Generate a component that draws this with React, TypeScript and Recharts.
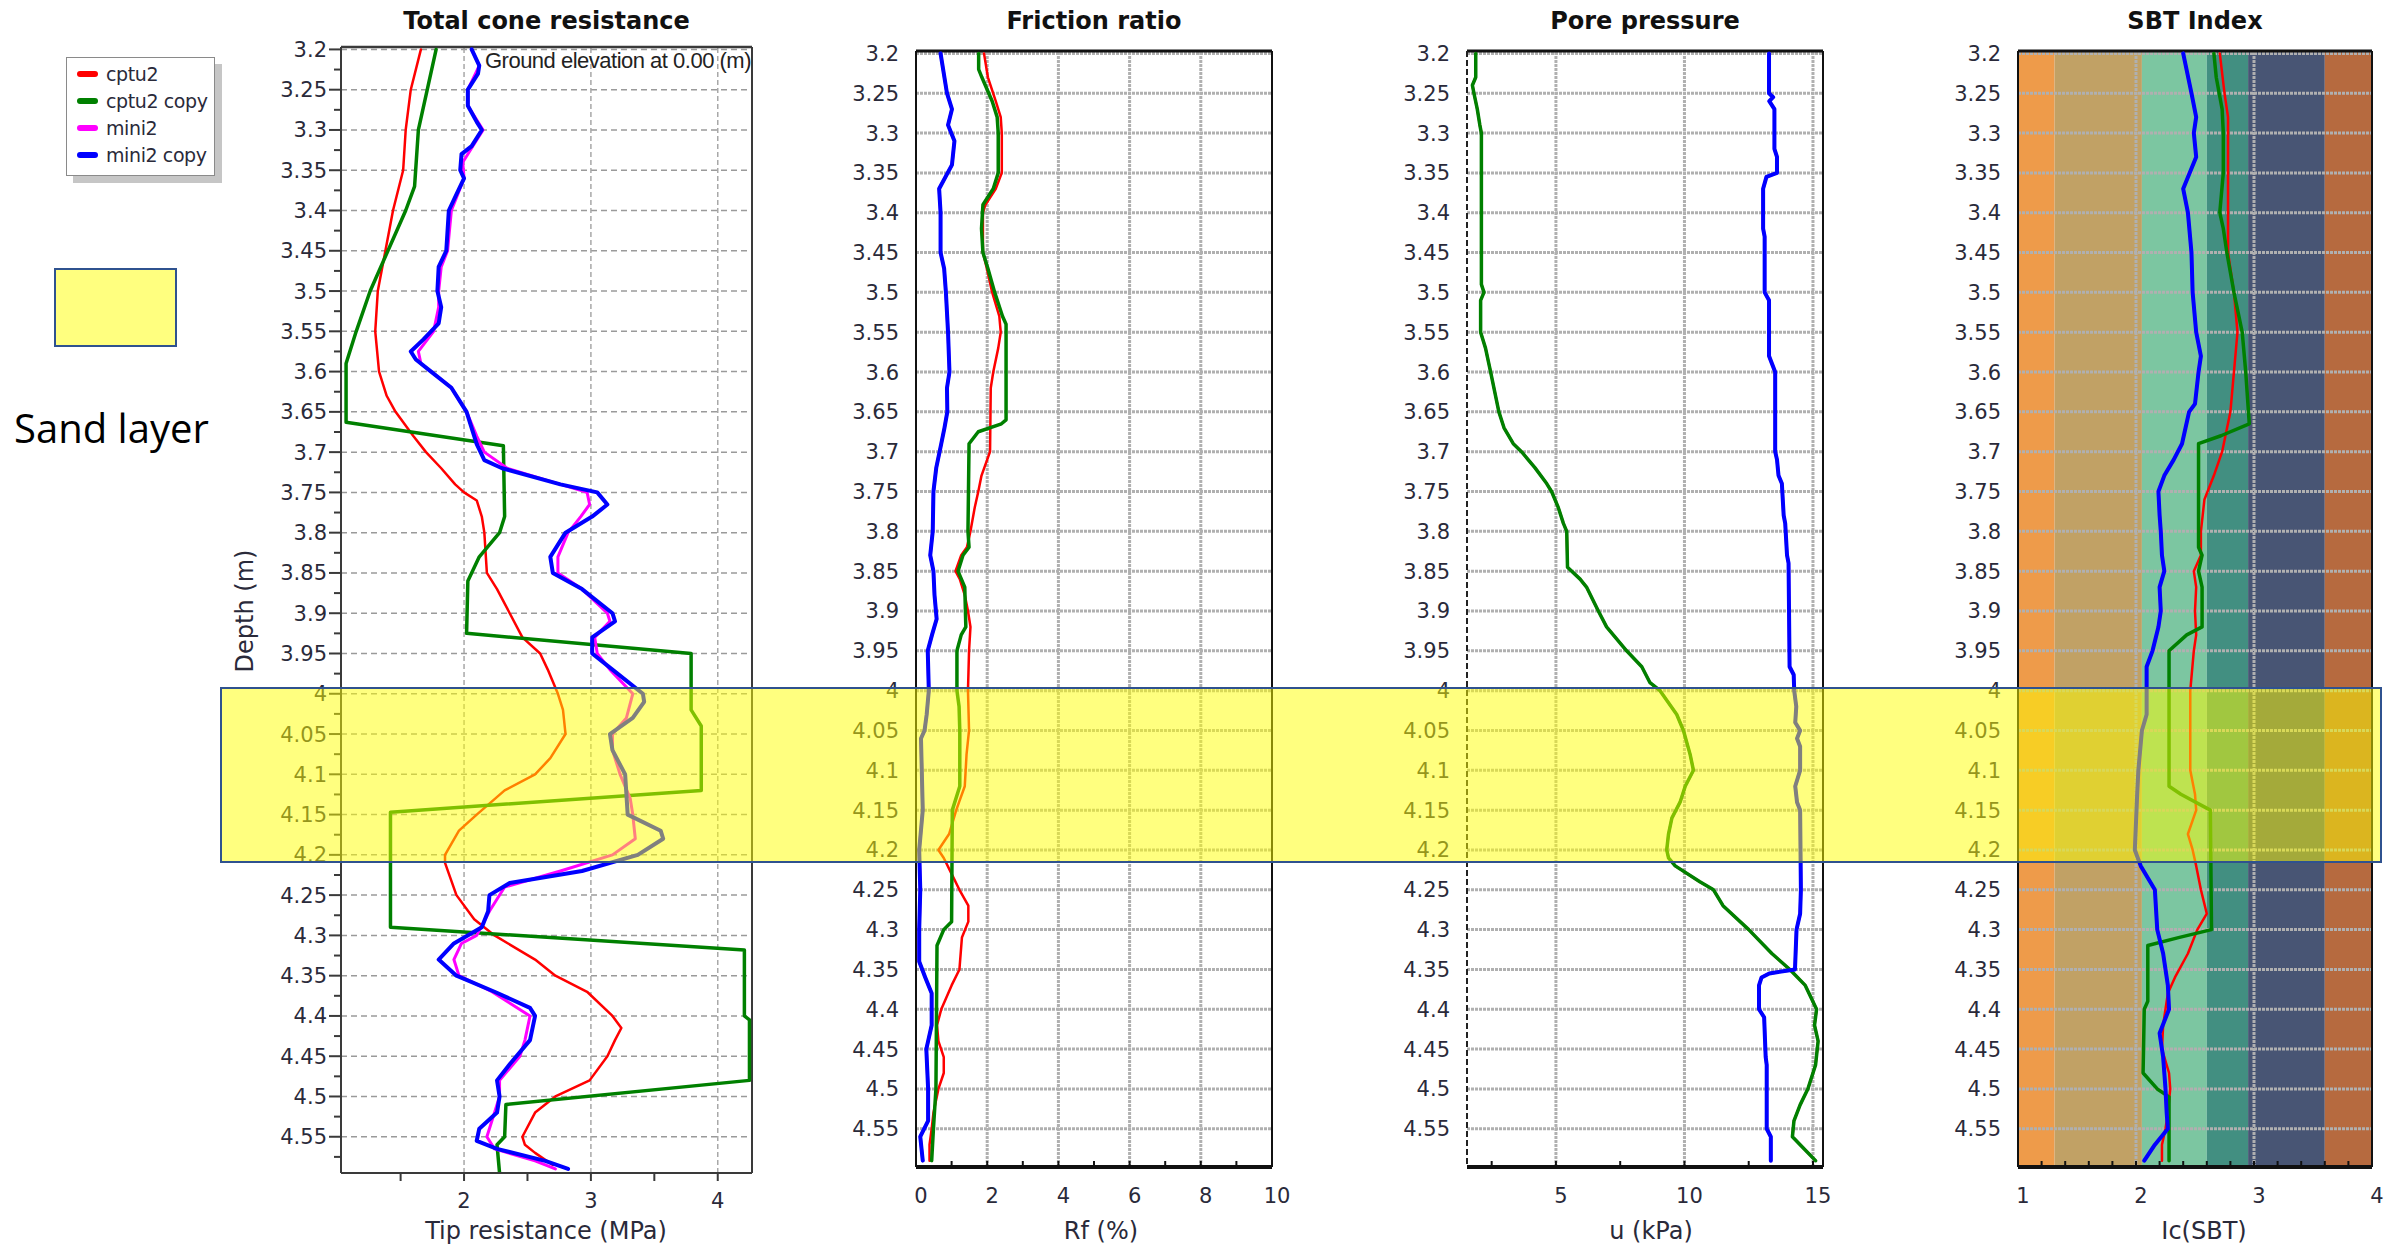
import React from 'react';
import { LineChart, Line, XAxis, YAxis, ReferenceLine, ReferenceArea, Legend } from 'recharts';

const W = 2402;
const H = 1246;
const FONT = '"DejaVu Sans", Verdana, sans-serif';

// ---------- series meta ----------
const seriesNames = ['cptu2', 'cptu2 copy', 'mini2', 'mini2 copy'];
const seriesColors = ['#ff0000', '#008000', '#ff00ff', '#0000ff'];
const seriesWidths = [2.5, 3.5, 3, 4];

// ---------- axis ticks ----------
const depthTicks = [3.2, 3.25, 3.3, 3.35, 3.4, 3.45, 3.5, 3.55, 3.6, 3.65, 3.7, 3.75, 3.8, 3.85, 3.9, 3.95, 4, 4.05, 4.1, 4.15, 4.2, 4.25, 4.3, 4.35, 4.4, 4.45, 4.5, 4.55];
const coneTicks = [1.5, 2, 2.5, 3, 3.5, 4];
const coneLabels = [2, 3, 4];
const coneGrid = [2, 3, 4];
const fricTicks = [0, 1, 2, 3, 4, 5, 6, 7, 8, 9, 10];
const fricLabels = [0, 2, 4, 6, 8, 10];
const fricGrid = [2, 4, 6, 8];
const poreTicks = [2.5, 5, 7.5, 10, 12.5, 15];
const poreLabels = [5, 10, 15];
const poreGrid = [5, 10, 15];
const sbtTicks = [1, 1.2, 1.4, 1.6, 1.8, 2, 2.2, 2.4, 2.6, 2.8, 3, 3.2, 3.4, 3.6, 3.8, 4];
const sbtLabels = [1, 2, 3, 4];
const sbtGrid = [2, 3];

// ---------- SBT zones ----------
const sbtBounds = [1, 1.31, 2.05, 2.6, 2.95, 3.6, 4];
const sbtColors = ['#EE9B4A', '#C1A165', '#7CC6A1', '#428F81', '#485574', '#B66A3F'];

// ---------- Total cone resistance (MPa) : [depth, value] ----------
const coneRed = [[3.2,1.66],[3.25,1.58],[3.3,1.54],[3.35,1.52],[3.4,1.44],[3.45,1.38],[3.5,1.32],[3.55,1.30],[3.6,1.33],[3.63,1.39],[3.65,1.46],[3.68,1.60],[3.7,1.70],[3.72,1.82],[3.74,1.93],[3.75,2.0],[3.76,2.10],[3.78,2.14],[3.8,2.16],[3.85,2.18],[3.87,2.26],[3.9,2.36],[3.93,2.46],[3.95,2.60],[3.97,2.66],[4.0,2.74],[4.02,2.78],[4.05,2.80],[4.08,2.68],[4.1,2.56],[4.12,2.32],[4.15,2.10],[4.17,1.96],[4.2,1.85],[4.21,1.85],[4.25,1.94],[4.28,2.08],[4.3,2.24],[4.33,2.56],[4.35,2.72],[4.37,2.97],[4.4,3.17],[4.415,3.24],[4.43,3.19],[4.45,3.13],[4.48,2.99],[4.5,2.72],[4.52,2.56],[4.55,2.46],[4.56,2.48],[4.57,2.56],[4.585,2.70]];
const coneGreen = [[3.2,1.78],[3.25,1.71],[3.3,1.64],[3.37,1.61],[3.4,1.54],[3.45,1.40],[3.5,1.26],[3.55,1.15],[3.59,1.07],[3.663,1.07],[3.692,2.31],[3.78,2.32],[3.8,2.28],[3.83,2.12],[3.86,2.03],[3.925,2.02],[3.95,3.79],[4.02,3.79],[4.04,3.87],[4.12,3.87],[4.147,1.42],[4.29,1.42],[4.318,4.21],[4.40,4.21],[4.405,4.25],[4.48,4.25],[4.51,2.33],[4.55,2.32],[4.56,2.26],[4.595,2.28]];
const coneMagenta = [[3.2,2.06],[3.22,2.12],[3.25,2.03],[3.27,2.03],[3.3,2.15],[3.32,2.07],[3.34,1.99],[3.36,2.0],[3.38,1.95],[3.4,1.90],[3.45,1.87],[3.47,1.82],[3.5,1.80],[3.52,1.80],[3.55,1.76],[3.575,1.64],[3.59,1.66],[3.6,1.74],[3.62,1.90],[3.65,2.02],[3.68,2.10],[3.7,2.16],[3.72,2.34],[3.74,2.76],[3.75,2.97],[3.765,2.99],[3.78,2.92],[3.8,2.82],[3.83,2.74],[3.85,2.74],[3.87,2.93],[3.9,3.13],[3.91,3.15],[3.93,3.03],[3.95,3.05],[3.97,3.15],[4.0,3.33],[4.03,3.28],[4.05,3.17],[4.07,3.17],[4.1,3.23],[4.13,3.31],[4.15,3.33],[4.18,3.35],[4.2,3.17],[4.22,2.76],[4.24,2.32],[4.27,2.2],[4.3,2.10],[4.31,1.98],[4.33,1.92],[4.35,1.96],[4.37,2.22],[4.4,2.52],[4.43,2.48],[4.45,2.44],[4.48,2.28],[4.5,2.28],[4.52,2.24],[4.55,2.18],[4.565,2.24],[4.58,2.56],[4.59,2.72]];
const coneBlue = [[3.2,2.06],[3.22,2.12],[3.23,2.11],[3.25,2.03],[3.27,2.03],[3.29,2.10],[3.3,2.14],[3.32,2.06],[3.33,1.98],[3.35,1.97],[3.36,2.0],[3.38,1.94],[3.4,1.88],[3.45,1.86],[3.47,1.80],[3.5,1.79],[3.52,1.82],[3.54,1.80],[3.56,1.68],[3.575,1.58],[3.585,1.62],[3.6,1.74],[3.62,1.90],[3.65,2.02],[3.68,2.08],[3.69,2.10],[3.71,2.16],[3.72,2.30],[3.74,2.76],[3.75,3.05],[3.765,3.13],[3.78,3.01],[3.8,2.80],[3.83,2.68],[3.85,2.70],[3.87,2.93],[3.9,3.17],[3.91,3.19],[3.93,3.01],[3.95,3.01],[3.97,3.17],[4.0,3.41],[4.01,3.42],[4.03,3.33],[4.05,3.15],[4.07,3.17],[4.1,3.27],[4.15,3.29],[4.17,3.55],[4.18,3.57],[4.2,3.37],[4.22,2.93],[4.235,2.36],[4.25,2.20],[4.27,2.19],[4.29,2.14],[4.31,1.92],[4.33,1.80],[4.35,1.94],[4.37,2.24],[4.39,2.52],[4.4,2.56],[4.43,2.52],[4.46,2.36],[4.48,2.26],[4.5,2.28],[4.52,2.26],[4.54,2.12],[4.555,2.10],[4.565,2.26],[4.58,2.64],[4.59,2.82]];

// ---------- Friction ratio (%) ----------
const fricRed = [[3.2,1.91],[3.23,2.02],[3.26,2.24],[3.28,2.38],[3.3,2.41],[3.35,2.41],[3.37,2.24],[3.39,1.95],[3.4,1.88],[3.45,1.88],[3.47,1.99],[3.5,2.14],[3.53,2.34],[3.55,2.38],[3.57,2.31],[3.6,2.17],[3.62,2.10],[3.7,2.08],[3.73,1.84],[3.75,1.75],[3.77,1.65],[3.8,1.53],[3.82,1.43],[3.83,1.27],[3.85,1.11],[3.86,1.23],[3.88,1.37],[3.9,1.46],[3.92,1.53],[3.95,1.49],[4.0,1.46],[4.05,1.49],[4.08,1.42],[4.12,1.37],[4.14,1.21],[4.15,1.13],[4.18,0.93],[4.2,0.63],[4.21,0.78],[4.23,1.0],[4.25,1.22],[4.27,1.47],[4.29,1.47],[4.31,1.29],[4.35,1.22],[4.37,1.0],[4.4,0.71],[4.42,0.59],[4.44,0.63],[4.46,0.78],[4.48,0.78],[4.5,0.63],[4.53,0.49],[4.55,0.44],[4.57,0.38],[4.59,0.38]];
const fricGreen = [[3.2,1.76],[3.22,1.76],[3.23,1.85],[3.26,2.14],[3.28,2.28],[3.3,2.31],[3.35,2.31],[3.37,2.17],[3.39,1.88],[3.42,1.84],[3.45,1.88],[3.47,2.02],[3.5,2.21],[3.53,2.43],[3.54,2.53],[3.66,2.53],[3.665,2.40],[3.675,1.75],[3.69,1.49],[3.8,1.46],[3.82,1.49],[3.83,1.32],[3.85,1.18],[3.87,1.37],[3.92,1.40],[3.93,1.27],[3.95,1.15],[4.0,1.15],[4.02,1.21],[4.05,1.23],[4.12,1.23],[4.15,1.02],[4.29,1.0],[4.3,0.78],[4.32,0.59],[4.5,0.56],[4.55,0.49],[4.59,0.44]];
const fricBlue = [[3.2,0.69],[3.25,0.87],[3.27,1.01],[3.29,0.90],[3.31,1.08],[3.34,1.01],[3.37,0.65],[3.4,0.69],[3.45,0.69],[3.47,0.79],[3.5,0.84],[3.55,0.90],[3.6,0.94],[3.62,0.87],[3.65,0.88],[3.67,0.80],[3.69,0.71],[3.72,0.57],[3.75,0.49],[3.8,0.47],[3.83,0.40],[3.85,0.49],[3.88,0.52],[3.91,0.58],[3.93,0.45],[3.95,0.33],[4.0,0.36],[4.03,0.30],[4.05,0.24],[4.06,0.14],[4.15,0.19],[4.2,0.09],[4.25,0.12],[4.3,0.09],[4.34,0.09],[4.36,0.26],[4.38,0.44],[4.42,0.44],[4.45,0.29],[4.5,0.34],[4.54,0.34],[4.56,0.12],[4.59,0.19]];

// ---------- Pore pressure (kPa) ----------
const poreGreen = [[3.2,1.88],[3.23,1.88],[3.24,1.75],[3.25,1.81],[3.27,1.94],[3.29,2.04],[3.3,2.10],[3.49,2.10],[3.5,2.2],[3.51,2.07],[3.55,2.07],[3.57,2.26],[3.6,2.46],[3.65,2.78],[3.67,2.98],[3.69,3.34],[3.7,3.66],[3.72,4.18],[3.74,4.64],[3.75,4.83],[3.77,5.09],[3.79,5.29],[3.8,5.42],[3.845,5.45],[3.86,5.94],[3.87,6.19],[3.9,6.65],[3.92,6.97],[3.95,7.75],[3.97,8.34],[3.99,8.66],[4.0,9.05],[4.03,9.70],[4.05,9.96],[4.08,10.22],[4.1,10.35],[4.12,10.03],[4.14,9.83],[4.16,9.51],[4.18,9.38],[4.2,9.31],[4.21,9.38],[4.22,9.64],[4.24,10.6],[4.25,11.13],[4.27,11.5],[4.3,12.5],[4.33,13.4],[4.35,14.1],[4.37,14.7],[4.4,15.14],[4.42,15.06],[4.44,15.2],[4.47,15.1],[4.5,14.8],[4.52,14.5],[4.54,14.26],[4.56,14.2],[4.57,14.5],[4.59,15.1]];
const poreBlue = [[3.2,13.29],[3.25,13.29],[3.255,13.45],[3.26,13.3],[3.27,13.5],[3.32,13.5],[3.33,13.6],[3.35,13.6],[3.355,13.19],[3.37,13.06],[3.42,13.06],[3.43,13.12],[3.5,13.12],[3.51,13.29],[3.58,13.29],[3.6,13.53],[3.7,13.53],[3.71,13.6],[3.73,13.66],[3.74,13.79],[3.78,13.86],[3.79,13.92],[3.83,13.99],[3.84,14.05],[3.97,14.09],[3.98,14.25],[4.0,14.27],[4.02,14.35],[4.04,14.31],[4.05,14.5],[4.06,14.38],[4.07,14.5],[4.1,14.5],[4.12,14.31],[4.14,14.38],[4.15,14.5],[4.25,14.53],[4.28,14.5],[4.3,14.36],[4.35,14.3],[4.355,13.3],[4.36,13.0],[4.37,12.9],[4.4,12.9],[4.41,13.1],[4.46,13.16],[4.47,13.2],[4.55,13.2],[4.56,13.36],[4.59,13.36]];

// ---------- SBT index Ic ----------
const sbtRed = [[3.2,2.71],[3.25,2.75],[3.28,2.78],[3.45,2.78],[3.5,2.83],[3.55,2.86],[3.6,2.83],[3.65,2.80],[3.7,2.73],[3.73,2.66],[3.76,2.58],[3.8,2.55],[3.83,2.55],[3.85,2.49],[3.87,2.51],[3.9,2.50],[3.93,2.51],[3.95,2.49],[4.0,2.46],[4.1,2.46],[4.13,2.50],[4.15,2.51],[4.18,2.44],[4.2,2.48],[4.22,2.51],[4.25,2.55],[4.28,2.60],[4.3,2.52],[4.33,2.44],[4.36,2.33],[4.38,2.27],[4.4,2.25],[4.42,2.23],[4.45,2.22],[4.48,2.28],[4.5,2.29],[4.53,2.27],[4.55,2.25],[4.57,2.22],[4.59,2.22]];
const sbtGreen = [[3.2,2.66],[3.23,2.68],[3.27,2.73],[3.3,2.74],[3.35,2.74],[3.4,2.71],[3.42,2.74],[3.45,2.77],[3.5,2.83],[3.55,2.90],[3.6,2.93],[3.665,2.96],[3.68,2.72],[3.69,2.53],[3.82,2.53],[3.83,2.56],[3.85,2.53],[3.87,2.56],[3.92,2.56],[3.93,2.43],[3.95,2.28],[4.12,2.28],[4.13,2.38],[4.15,2.63],[4.3,2.64],[4.31,2.36],[4.32,2.10],[4.39,2.10],[4.4,2.07],[4.48,2.06],[4.5,2.18],[4.51,2.28],[4.59,2.28]];
const sbtBlue = [[3.2,2.40],[3.25,2.47],[3.28,2.51],[3.3,2.49],[3.33,2.51],[3.37,2.40],[3.4,2.44],[3.45,2.47],[3.5,2.48],[3.55,2.51],[3.58,2.55],[3.6,2.53],[3.64,2.50],[3.65,2.45],[3.67,2.42],[3.69,2.39],[3.71,2.32],[3.73,2.24],[3.75,2.19],[3.78,2.20],[3.8,2.21],[3.83,2.22],[3.85,2.24],[3.87,2.20],[3.9,2.21],[3.92,2.19],[3.95,2.14],[3.97,2.09],[4.03,2.09],[4.05,2.05],[4.1,2.02],[4.13,2.01],[4.2,1.99],[4.22,2.04],[4.25,2.16],[4.3,2.18],[4.33,2.23],[4.37,2.27],[4.4,2.28],[4.43,2.20],[4.46,2.23],[4.5,2.25],[4.53,2.26],[4.55,2.27],[4.57,2.16],[4.59,2.07]];

type Pt = { d: number; v: number };
const pts = (a: number[][]): Pt[] => a.map(([d, v]) => ({ d, v }));
const fmt = (v: number) => String(Number(v.toFixed(3)));
const inList = (v: number, list: number[]) => list.some((x) => Math.abs(x - v) < 1e-6);

interface Cfg {
  key: string;
  title: string;
  axisTitle: string;
  axisTitleX: number;
  kind: 'cone' | 'std';
  chartLeft: number;
  plotLeft: number;
  plotRight: number;
  plotTop: number;
  plotBottom: number;
  xDomain: [number, number];
  yDomain: [number, number];
  xTicks: number[];
  xLabels: number[];
  xGrid: number[];
  series: number[][][];
  bands?: boolean;
  leftDashed?: boolean;
}

const panels: Cfg[] = [
  {
    key: 'cone', title: 'Total cone resistance', axisTitle: 'Tip resistance (MPa)', axisTitleX: 546, kind: 'cone',
    chartLeft: 0, plotLeft: 341, plotRight: 752, plotTop: 47, plotBottom: 1173,
    xDomain: [1.03, 4.27], yDomain: [3.197, 4.595],
    xTicks: coneTicks, xLabels: coneLabels, xGrid: coneGrid,
    series: [coneRed, coneGreen, coneMagenta, coneBlue],
  },
  {
    key: 'fric', title: 'Friction ratio', axisTitle: 'Rf (%)', axisTitleX: 1101, kind: 'std',
    chartLeft: 820, plotLeft: 916, plotRight: 1272, plotTop: 51, plotBottom: 1167,
    xDomain: [0, 10], yDomain: [3.197, 4.598],
    xTicks: fricTicks, xLabels: fricLabels, xGrid: fricGrid,
    series: [fricRed, fricGreen, fricBlue, fricBlue],
  },
  {
    key: 'pore', title: 'Pore pressure', axisTitle: 'u (kPa)', axisTitleX: 1651, kind: 'std',
    chartLeft: 1370, plotLeft: 1467, plotRight: 1823, plotTop: 51, plotBottom: 1167,
    xDomain: [1.54, 15.39], yDomain: [3.197, 4.598],
    xTicks: poreTicks, xLabels: poreLabels, xGrid: poreGrid,
    series: [poreGreen, poreGreen, poreBlue, poreBlue], leftDashed: true,
  },
  {
    key: 'sbt', title: 'SBT Index', axisTitle: 'Ic(SBT)', axisTitleX: 2204, kind: 'std',
    chartLeft: 1920, plotLeft: 2018, plotRight: 2372, plotTop: 51, plotBottom: 1167,
    xDomain: [1, 4], yDomain: [3.197, 4.598],
    xTicks: sbtTicks, xLabels: sbtLabels, xGrid: sbtGrid,
    series: [sbtRed, sbtGreen, sbtBlue, sbtBlue], bands: true,
  },
];

const coneDepthTicks = depthTicks.flatMap((t) => [t, Number((t + 0.025).toFixed(3))]);

const LegendBox = (props: any) => {
  const payload = (props && props.payload) || [];
  return (
    <div
      style={{
        width: 149, height: 119, boxSizing: 'border-box', border: '1.5px solid #8a8a8a', background: '#fff',
        boxShadow: '7px 7px 0 #c6c6c6', paddingTop: 2, paddingLeft: 10, fontFamily: FONT, fontSize: 19, color: '#2a2a3a',
      }}
    >
      {payload.map((p: any, i: number) => (
        <div key={i} style={{ display: 'flex', alignItems: 'center', height: 27, whiteSpace: 'nowrap' }}>
          <span style={{ display: 'inline-block', width: 21, height: 6, borderRadius: 3, background: p.color, marginRight: 8 }} />
          <span style={{ letterSpacing: -0.4 }}>{p.value}</span>
        </div>
      ))}
    </div>
  );
};

function Panel({ c }: { c: Cfg }) {
  const isCone = c.kind === 'cone';
  const yAxisWidth = c.plotLeft - c.chartLeft;
  const width = c.plotRight + 20 - c.chartLeft;
  const margin = { top: c.plotTop, right: 20, bottom: H - c.plotBottom - 60, left: 0 };
  const yTicks = isCone ? coneDepthTicks : depthTicks;

  const yTick = (p: any) => {
    const { x, y, payload } = p;
    const v = payload.value as number;
    const major = inList(v, depthTicks);
    return (
      <g>
        {isCone && (
          <line x1={x} x2={x - (major ? 12 : 7)} y1={y} y2={y} stroke="#3a3a3a" strokeWidth={2} />
        )}
        {major && (
          <text x={x - (isCone ? 14 : 17)} y={y + 7.5} textAnchor="end" fontSize={21} fontFamily={FONT} fill="#2a2a3a">
            {fmt(v)}
          </text>
        )}
      </g>
    );
  };

  const xTick = (p: any) => {
    const { x, y, payload } = p;
    const v = payload.value as number;
    const show = inList(v, c.xLabels);
    return (
      <g>
        {isCone ? (
          <line x1={x} x2={x} y1={y} y2={y + 8} stroke="#3a3a3a" strokeWidth={2} />
        ) : (
          <line x1={x} x2={x} y1={y - 6} y2={y} stroke="#111" strokeWidth={2} />
        )}
        {show && (
          <text x={x + (isCone ? 0 : 5)} y={y + (isCone ? 35 : 36)} textAnchor="middle" fontSize={21} fontFamily={FONT} fill="#2a2a3a">
            {fmt(v)}
          </text>
        )}
      </g>
    );
  };

  const gridH = isCone
    ? { stroke: '#9a9a9a', strokeWidth: 1.5, strokeDasharray: '6 4' }
    : { stroke: '#b0b0b0', strokeWidth: 3, strokeDasharray: '3 1' };
  const gridV = isCone
    ? { stroke: '#a8a8a8', strokeWidth: 1.5, strokeDasharray: '5 3' }
    : { stroke: '#b0b0b0', strokeWidth: 3, strokeDasharray: '3 1' };

  return (
    <div style={{ position: 'absolute', left: c.chartLeft, top: 0 }}>
      <LineChart layout="vertical" width={width} height={H} margin={margin}>
        <XAxis
          type="number"
          domain={c.xDomain}
          ticks={c.xTicks}
          interval={0}
          allowDataOverflow
          height={60}
          tickSize={0}
          tickMargin={0}
          tickLine={false}
          tick={xTick}
          axisLine={isCone ? { stroke: '#3a3a3a', strokeWidth: 2 } : { stroke: '#111', strokeWidth: 4 }}
        />
        <YAxis
          type="number"
          dataKey="d"
          domain={c.yDomain}
          ticks={yTicks}
          interval={0}
          allowDataOverflow
          width={yAxisWidth}
          tickSize={0}
          tickMargin={0}
          tickLine={false}
          tick={yTick}
          axisLine={
            c.leftDashed
              ? { stroke: '#222', strokeWidth: 2, strokeDasharray: '6 3' }
              : { stroke: isCone ? '#3a3a3a' : '#111', strokeWidth: 2 }
          }
        />
        {c.bands &&
          sbtColors.map((col, i) => (
            <ReferenceArea
              key={'band' + i}
              x1={sbtBounds[i]}
              x2={sbtBounds[i + 1]}
              fill={col}
              fillOpacity={1}
              stroke="none"
              ifOverflow="visible"
            />
          ))}
        {depthTicks.map((d) => (
          <ReferenceLine key={'h' + d} y={d} ifOverflow="visible" {...gridH} />
        ))}
        {c.xGrid.map((v) => (
          <ReferenceLine key={'v' + v} x={v} ifOverflow="visible" {...gridV} />
        ))}
        <ReferenceLine y={c.yDomain[0]} ifOverflow="visible" stroke={isCone ? '#3a3a3a' : '#111'} strokeWidth={isCone ? 2.5 : 3} />
        <ReferenceLine x={c.xDomain[1]} ifOverflow="visible" stroke={isCone ? '#3a3a3a' : '#111'} strokeWidth={2} />
        {c.series.map((s, i) => (
          <Line
            key={c.key + i}
            data={pts(s)}
            dataKey="v"
            name={seriesNames[i]}
            type="linear"
            stroke={seriesColors[i]}
            strokeWidth={seriesWidths[i]}
            strokeLinejoin="round"
            strokeLinecap="round"
            dot={false}
            activeDot={false}
            isAnimationActive={false}
          />
        ))}
        {isCone && (
          <Legend
            layout="vertical"
            align="center"
            verticalAlign="middle"
            wrapperStyle={{ left: 66, top: 57, width: 160, height: 130 }}
            content={(p: any) => <LegendBox payload={p.payload} />}
          />
        )}
      </LineChart>
    </div>
  );
}

export default function App() {
  return (
    <div style={{ position: 'absolute', left: 0, top: 0, width: W, height: H, background: '#fff', overflow: 'hidden' }}>
      {panels.map((c) => (
        <Panel key={c.key} c={c} />
      ))}
      <svg width={W} height={H} style={{ position: 'absolute', left: 0, top: 0, pointerEvents: 'none' }}>
        {panels.map((c) => (
          <g key={'t' + c.key}>
            <text x={(c.plotLeft + c.plotRight) / 2} y={29} textAnchor="middle" fontSize={24} fontWeight="bold" fontFamily={FONT} fill="#111">
              {c.title}
            </text>
            <text x={c.axisTitleX} y={1239} textAnchor="middle" fontSize={24} fontFamily={FONT} fill="#2a2a3a">
              {c.axisTitle}
            </text>
          </g>
        ))}
        <text transform="translate(244,611) rotate(-90)" dy={9} textAnchor="middle" fontSize={24} fontFamily={FONT} fill="#2a2a3a">
          Depth (m)
        </text>
        <text x={751} y={68} textAnchor="end" fontSize={22} fontFamily='"Liberation Sans", Arial, sans-serif' fill="#222" letterSpacing={-0.5}>
          Ground elevation at 0.00 (m)
        </text>
        <rect x={55} y={269} width={121} height={77} fill="#ffff00" fillOpacity={0.5} stroke="#2F528F" strokeWidth={2} />
        <text x={14} y={443} fontSize={40} fontFamily='"Open Sans", "Noto Sans", sans-serif' fill="#000">
          Sand layer
        </text>
        <rect x={221} y={688} width={2160} height={174} fill="#ffff00" fillOpacity={0.5} stroke="#2F528F" strokeWidth={2} />
      </svg>
    </div>
  );
}
